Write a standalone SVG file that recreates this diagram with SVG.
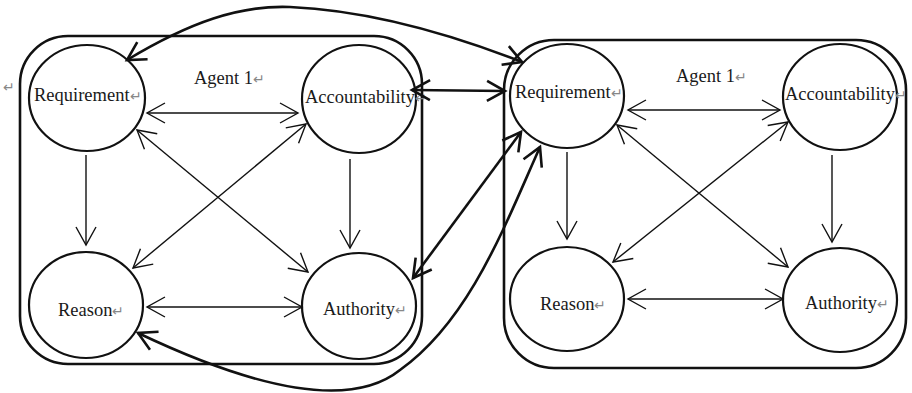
<svg xmlns="http://www.w3.org/2000/svg" width="912" height="393" viewBox="0 0 912 393">
  <style>
    .box { fill: none; stroke: #111; stroke-width: 2.6; }
    .node { fill: #fff; stroke: #111; stroke-width: 2.2; }
    .lbl { font-family: "Liberation Serif", "Times New Roman", serif; font-size: 18.5px; fill: #1a1a1a; }
    .ret { font-size: 14px; fill: #888; }
    .thin { fill: none; stroke: #111; stroke-width: 1.4; }
    .thick { fill: none; stroke: #111; stroke-width: 2.6; }
  </style>
  <defs>
    <marker id="headThin" markerUnits="userSpaceOnUse" markerWidth="40" markerHeight="40" refX="20" refY="20" orient="auto-start-reverse" overflow="visible">
      <path d="M2 10 L20 20 L2 30" fill="none" stroke="#111" stroke-width="1.4"/>
    </marker>
    <marker id="headThick" markerUnits="userSpaceOnUse" markerWidth="40" markerHeight="40" refX="20" refY="20" orient="auto-start-reverse" overflow="visible">
      <path d="M2 10 L20 20 L2 30" fill="none" stroke="#111" stroke-width="2.6"/>
    </marker>
  </defs>

  <rect width="912" height="393" fill="#fff"/>

  <text class="lbl ret" x="3" y="92">↵</text>

  <!-- agent containers -->
  <g id="agentLeft">
    <rect class="box" x="20" y="36" width="402" height="328" rx="48" ry="48"/>
    <text class="lbl" x="194" y="84">Agent 1<tspan class="ret">↵</tspan></text>
  </g>
  <g id="agentRight">
    <rect class="box" x="504" y="40" width="402" height="328" rx="50" ry="50"/>
    <text class="lbl" x="676" y="82">Agent 1<tspan class="ret">↵</tspan></text>
  </g>

  <!-- left agent nodes -->
  <g id="reqL">
    <ellipse class="node" cx="87" cy="98" rx="58" ry="53"/>
    <text class="lbl" x="34" y="101">Requirement<tspan class="ret">↵</tspan></text>
  </g>
  <g id="accL">
    <ellipse class="node" cx="359" cy="99" rx="57" ry="54"/>
    <text class="lbl" x="305" y="103">Accountability<tspan class="ret">↵</tspan></text>
  </g>
  <g id="reaL">
    <ellipse class="node" cx="86" cy="305" rx="57" ry="53"/>
    <text class="lbl" x="58" y="316">Reason<tspan class="ret">↵</tspan></text>
  </g>
  <g id="autL">
    <ellipse class="node" cx="359" cy="306" rx="57" ry="53"/>
    <text class="lbl" x="323" y="315">Authority<tspan class="ret">↵</tspan></text>
  </g>

  <!-- right agent nodes -->
  <g id="reqR">
    <ellipse class="node" cx="567" cy="96" rx="57" ry="52"/>
    <text class="lbl" x="515" y="98">Requirement<tspan class="ret">↵</tspan></text>
  </g>
  <g id="accR">
    <ellipse class="node" cx="840" cy="97" rx="57" ry="53"/>
    <text class="lbl" x="785" y="100">Accountability<tspan class="ret">↵</tspan></text>
  </g>
  <g id="reaR">
    <ellipse class="node" cx="567" cy="299" rx="57" ry="52"/>
    <text class="lbl" x="540" y="310">Reason<tspan class="ret">↵</tspan></text>
  </g>
  <g id="autR">
    <ellipse class="node" cx="840" cy="300" rx="57" ry="52"/>
    <text class="lbl" x="805" y="309">Authority<tspan class="ret">↵</tspan></text>
  </g>

  <g id="connectors">
    <!-- inside the left agent -->
    <line class="thin" x1="147" y1="113" x2="298" y2="113" marker-start="url(#headThin)" marker-end="url(#headThin)"/>
    <line class="thin" x1="86" y1="155" x2="86" y2="245" marker-end="url(#headThin)"/>
    <line class="thin" x1="350" y1="159" x2="350" y2="248" marker-end="url(#headThin)"/>
    <line class="thin" x1="147" y1="307" x2="302" y2="307" marker-start="url(#headThin)" marker-end="url(#headThin)"/>
    <line class="thin" x1="137" y1="130" x2="308" y2="272" marker-start="url(#headThin)" marker-end="url(#headThin)"/>
    <line class="thin" x1="133" y1="268" x2="306" y2="124" marker-start="url(#headThin)" marker-end="url(#headThin)"/>

    <!-- inside the right agent -->
    <line class="thin" x1="628" y1="110" x2="780" y2="110" marker-start="url(#headThin)" marker-end="url(#headThin)"/>
    <line class="thin" x1="567" y1="152" x2="567" y2="239" marker-end="url(#headThin)"/>
    <line class="thin" x1="832" y1="155" x2="832" y2="242" marker-end="url(#headThin)"/>
    <line class="thin" x1="628" y1="299" x2="783" y2="299" marker-start="url(#headThin)" marker-end="url(#headThin)"/>
    <line class="thin" x1="617" y1="125" x2="788" y2="267" marker-start="url(#headThin)" marker-end="url(#headThin)"/>
    <line class="thin" x1="613" y1="262" x2="788" y2="122" marker-start="url(#headThin)" marker-end="url(#headThin)"/>

    <!-- between the agents -->
    <path class="thick" d="M127 60 C190 22 240 5 290 7 C360 10 440 30 522 62" marker-start="url(#headThick)" marker-end="url(#headThick)"/>
    <line class="thick" x1="412" y1="90" x2="505" y2="91" marker-start="url(#headThick)" marker-end="url(#headThick)"/>
    <line class="thick" x1="413" y1="278" x2="521" y2="132" marker-start="url(#headThick)" marker-end="url(#headThick)"/>
    <path class="thick" d="M540 147 C505 225 470 320 400 370 C340 418 220 372 138 333" marker-start="url(#headThick)" marker-end="url(#headThick)"/>
  </g>
</svg>
